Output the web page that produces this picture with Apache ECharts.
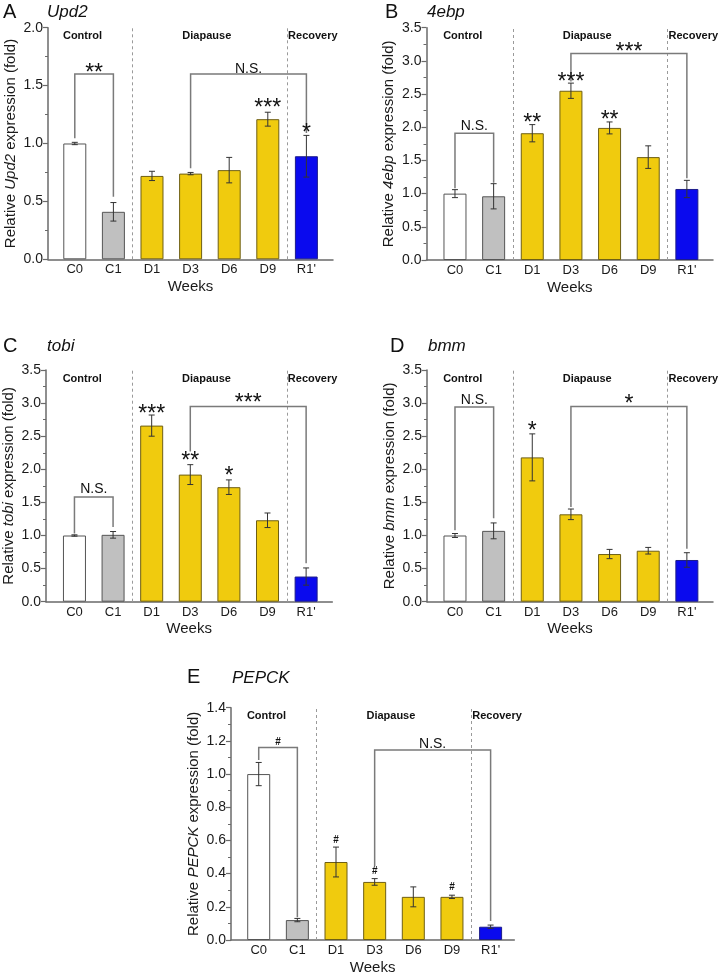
<!DOCTYPE html>
<html><head><meta charset="utf-8">
<script src="https://cdn.jsdelivr.net/npm/echarts@6/dist/echarts.min.js"></script>
<style>html,body{margin:0;padding:0;background:#fff}#c{width:721px;height:979px}</style>
</head><body><div id="c"></div>
<script>
const FONT = "'Liberation Sans', Arial, Helvetica, sans-serif";

// ---- data ----
const categories = ['C0', 'C1', 'D1', 'D3', 'D6', 'D9', "R1'"];
const groupNames = ['Control', 'Diapause', 'Recovery'];

const upd2Mean  = [1.00, 0.41, 0.72, 0.74, 0.77, 1.21, 0.89];
const upd2Err   = [0.01, 0.08, 0.04, 0.01, 0.11, 0.06, 0.18];
const ebpMean   = [1.00, 0.96, 1.91, 2.55, 1.99, 1.55, 1.07];
const ebpErr    = [0.06, 0.19, 0.13, 0.115, 0.09, 0.17, 0.13];
const tobiMean  = [1.00, 1.01, 2.66, 1.92, 1.73, 1.23, 0.38];
const tobiErr   = [0.01, 0.05, 0.16, 0.15, 0.11, 0.11, 0.13];
const bmmMean   = [1.00, 1.07, 2.18, 1.32, 0.72, 0.77, 0.63];
const bmmErr    = [0.03, 0.12, 0.355, 0.08, 0.07, 0.05, 0.11];
const pepckMean = [1.00, 0.12, 0.47, 0.35, 0.26, 0.26, 0.08];
const pepckErr  = [0.07, 0.01, 0.09, 0.02, 0.06, 0.01, 0.01];

// brackets: [from, to, lineY, leftLegEndY, rightLegEndY, labelY, label]
const upd2Brackets  = [[0, 1, 1.60, 1.045, 0.54, 1.645, '**'], [3, 6, 1.60, 0.786, 1.09, 1.645, 'N.S.']];
const ebpBrackets   = [[0, 1, 1.91, 1.08, 1.165, 2.02, 'N.S.'], [3, 6, 3.11, 2.69, 1.23, 3.20, '***']];
const tobiBrackets  = [[0, 1, 1.58, 1.03, 1.13, 1.70, 'N.S.'], [3, 6, 2.95, 2.27, 0.58, 3.06, '***']];
const bmmBrackets   = [[0, 1, 2.94, 1.08, 1.26, 3.05, 'N.S.'], [3, 6, 2.95, 1.43, 0.80, 3.05, '*']];
const pepckBrackets = [[0, 1, 1.16, 1.085, 0.137, 1.19, '#'], [3, 6, 1.145, 0.445, 0.115, 1.18, 'N.S.']];

// marks above bars: [index, centerY, label]
const upd2Marks  = [[5, 1.34, '***'], [6, 1.13, '*']];
const ebpMarks   = [[2, 2.125, '**'], [3, 2.75, '***'], [4, 2.17, '**']];
const tobiMarks  = [[2, 2.905, '***'], [3, 2.19, '**'], [4, 1.96, '*']];
const bmmMarks   = [[2, 2.64, '*']];
const pepckMarks = [[2, 0.60, '#'], [3, 0.416, '#'], [5, 0.315, '#']];

// group label anchor positions along the x scale (Control / Diapause centred, Recovery left-aligned at separator)
const groupX = [0.2, 3.42, 5.5];

// ---- styling / layout ----
const fills   = ['#ffffff', '#c0c0c0', '#f0cb0e', '#f0cb0e', '#f0cb0e', '#f0cb0e', '#0a0aee'];
const borders = ['#555555', '#555555', '#6e5f14', '#6e5f14', '#6e5f14', '#6e5f14', '#1c1c8a'];

const panels = [
  {letter: 'A', gene: 'Upd2', mean: upd2Mean, err: upd2Err, br: upd2Brackets, mk: upd2Marks,
   ymax: 2.0, step: 0.5, left: 48, top: 27.7, right: 333, bottom: 259.3, xmin: -0.694, xmax: 6.689,
   lx: 3, gx: 47, base: 19},
  {letter: 'B', gene: '4ebp', mean: ebpMean, err: ebpErr, br: ebpBrackets, mk: ebpMarks,
   ymax: 3.5, step: 0.5, left: 426.5, top: 27.7, right: 713, bottom: 260, xmin: -0.737, xmax: 6.676,
   lx: 385, gx: 427, base: 19},
  {letter: 'C', gene: 'tobi', mean: tobiMean, err: tobiErr, br: tobiBrackets, mk: tobiMarks,
   ymax: 3.5, step: 0.5, left: 45.7, top: 370, right: 332.3, bottom: 601.7, xmin: -0.737, xmax: 6.678,
   lx: 3, gx: 47, base: 353},
  {letter: 'D', gene: 'bmm', mean: bmmMean, err: bmmErr, br: bmmBrackets, mk: bmmMarks,
   ymax: 3.5, step: 0.5, left: 427, top: 370, right: 713, bottom: 601.7, xmin: -0.724, xmax: 6.676,
   lx: 390, gx: 428, base: 353},
  {letter: 'E', gene: 'PEPCK', mean: pepckMean, err: pepckErr, br: pepckBrackets, mk: pepckMarks,
   ymax: 1.4, step: 0.2, left: 231, top: 707.7, right: 514.3, bottom: 940, xmin: -0.717, xmax: 6.613,
   lx: 187, gx: 232, base: 684.5}
];

function labelStyle(t) {
  if (t.indexOf('*') >= 0) return {fontSize: 23, fontWeight: 'normal', dy: 5};
  if (t === '#') return {fontSize: 10, fontWeight: 'bold', dy: 0};
  return {fontSize: 14, fontWeight: 'normal', dy: 0};
}
function textEl(x, y, t) {
  const s = labelStyle(t);
  return {type: 'text', z2: 10, style: {text: t, x: x, y: y + s.dy, align: 'center', verticalAlign: 'middle',
    font: s.fontWeight + ' ' + s.fontSize + 'px ' + FONT, fill: '#111'}};
}

const grid = [], xAxis = [], yAxis = [], series = [], graphic = [];
panels.forEach((p, i) => {
  grid.push({left: p.left, top: p.top, width: p.right - p.left, height: p.bottom - p.top, containLabel: false});
  xAxis.push({
    gridIndex: i, type: 'value', min: p.xmin, max: p.xmax,
    axisLine: {show: true, onZero: false, lineStyle: {color: '#6a6a6a', width: 1.5}},
    axisTick: {show: false}, splitLine: {show: false},
    axisLabel: {customValues: [0, 1, 2, 3, 4, 5, 6], formatter: v => categories[Math.round(v)] || '',
      fontSize: 13, margin: 4, color: '#1a1a1a', fontFamily: FONT},
    name: 'Weeks', nameLocation: 'middle', nameGap: 20,
    nameTextStyle: {fontSize: 15, color: '#1a1a1a', fontFamily: FONT}
  });
  yAxis.push({
    gridIndex: i, type: 'value', min: 0, max: p.ymax, interval: p.step,
    axisLine: {show: true, onZero: false, lineStyle: {color: '#6a6a6a', width: 1.5}},
    axisTick: {show: true, length: 5, lineStyle: {color: '#6a6a6a', width: 1.2}},
    minorTick: {show: true, splitNumber: 2, length: 3, lineStyle: {color: '#6a6a6a', width: 1}},
    splitLine: {show: false}, minorSplitLine: {show: false},
    axisLabel: {fontSize: 14, margin: 5, color: '#1a1a1a', fontFamily: FONT, formatter: v => v.toFixed(1)},
    name: '{a|Relative }{b|' + p.gene + '}{a| expression (fold)}',
    nameLocation: 'middle', nameGap: 30,
    nameTextStyle: {fontSize: 15, color: '#1a1a1a', fontFamily: FONT,
      rich: {a: {fontSize: 15, fontFamily: FONT, color: '#1a1a1a'},
             b: {fontSize: 15, fontFamily: FONT, fontStyle: 'italic', color: '#1a1a1a'}}}
  });
  series.push({
    type: 'bar', xAxisIndex: i, yAxisIndex: i, barWidth: 23, z: 2,
    data: p.mean.map((v, k) => ({value: [k, v], itemStyle: {color: fills[k], borderColor: borders[k], borderWidth: 1}})),
    markLine: {silent: true, symbol: 'none', label: {show: false}, animation: false,
      lineStyle: {type: [3, 3], color: '#9a9a9a', width: 1},
      data: [{xAxis: 1.5}, {xAxis: 5.5}]}
  });
  series.push({
    type: 'custom', xAxisIndex: i, yAxisIndex: i, z: 4,
    data: p.mean.map((v, k) => [k, v - p.err[k], v + p.err[k]]),
    renderItem: (params, api) => {
      const x = api.value(0);
      const lo = api.coord([x, api.value(1)]);
      const hi = api.coord([x, api.value(2)]);
      const st = {stroke: '#333', lineWidth: 1};
      return {type: 'group', children: [
        {type: 'line', shape: {x1: lo[0], y1: lo[1], x2: hi[0], y2: hi[1]}, style: st},
        {type: 'line', shape: {x1: lo[0] - 3, y1: lo[1], x2: lo[0] + 3, y2: lo[1]}, style: st},
        {type: 'line', shape: {x1: hi[0] - 3, y1: hi[1], x2: hi[0] + 3, y2: hi[1]}, style: st}
      ]};
    }
  });
  const br = p.br;
  series.push({
    type: 'custom', xAxisIndex: i, yAxisIndex: i, z: 5,
    data: br.map(b => [b[0], b[2]]),
    renderItem: (params, api) => {
      const b = br[params.dataIndex];
      const pl = api.coord([b[0], b[3]]), p1 = api.coord([b[0], b[2]]);
      const p2 = api.coord([b[1], b[2]]), pr = api.coord([b[1], b[4]]);
      const lab = api.coord([(b[0] + b[1]) / 2, b[5]]);
      return {type: 'group', children: [
        {type: 'polyline', shape: {points: [pl, p1, p2, pr]}, style: {stroke: '#7a7a7a', lineWidth: 1.5, fill: null}},
        textEl(lab[0], lab[1], b[6])
      ]};
    }
  });
  const mk = p.mk;
  series.push({
    type: 'custom', xAxisIndex: i, yAxisIndex: i, z: 5,
    data: mk.map(m => [m[0], m[1]]),
    renderItem: (params, api) => {
      const m = mk[params.dataIndex];
      const c = api.coord([m[0], m[1]]);
      return textEl(c[0], c[1], m[2]);
    }
  });
  graphic.push({type: 'text', left: p.lx, top: p.base - 17, style: {text: p.letter, font: '20px ' + FONT, fill: '#111'}});
  graphic.push({type: 'text', left: p.gx, top: p.base - 15, style: {text: p.gene, font: 'italic 17px ' + FONT, fill: '#111'}});
});

const chart = echarts.init(document.getElementById('c'), null, {renderer: 'canvas'});
chart.setOption({animation: false, backgroundColor: '#fff', grid, xAxis, yAxis, series, graphic});

// group labels placed through the library's own scales
const extra = [];
panels.forEach((p, i) => {
  const f = 'bold 11px ' + FONT;
  groupX.forEach((gxv, g) => {
    const c = chart.convertToPixel({gridIndex: i}, [gxv, p.ymax]);
    extra.push({type: 'text', x: c[0] + (g === 2 ? 1 : 0), y: c[1] + 8.5,
      style: {text: groupNames[g], align: g === 2 ? 'left' : 'center', verticalAlign: 'middle', font: f, fill: '#111'}});
  });
});
chart.setOption({graphic: graphic.concat(extra)});
</script>
</body></html>
